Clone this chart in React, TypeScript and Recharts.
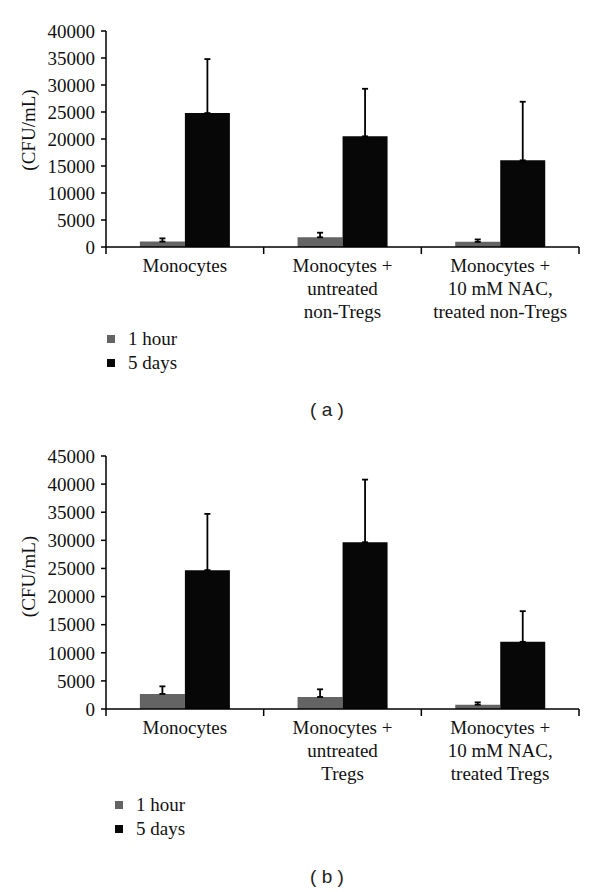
import React from 'react';
import { BarChart, Bar, XAxis, YAxis, ErrorBar, Legend } from 'recharts';

const serif = '"Liberation Serif", serif';

// panel (a)
const groupsA = ['Monocytes', 'Monocytes +\nuntreated\nnon-Tregs', 'Monocytes +\n10 mM NAC,\ntreated non-Tregs'];
const hourA = [1000, 1800, 950];
const hourErrA = [600, 850, 450];
const daysA = [24800, 20500, 16050];
const daysErrA = [10000, 8800, 10850];
const ticksA = [0, 5000, 10000, 15000, 20000, 25000, 30000, 35000, 40000];

// panel (b)
const groupsB = ['Monocytes', 'Monocytes +\nuntreated\nTregs', 'Monocytes +\n10 mM NAC,\ntreated Tregs'];
const hourB = [2680, 2140, 770];
const hourErrB = [1350, 1360, 410];
const daysB = [24700, 29660, 11950];
const daysErrB = [10000, 11140, 5450];
const ticksB = [0, 5000, 10000, 15000, 20000, 25000, 30000, 35000, 40000, 45000];

const seriesNames = ['1 hour', '5 days'];
const seriesColors = ['#646464', '#070707'];

function CategoryTick(props: any) {
  const { x, y, payload, index } = props;
  const half = payload?.offset || 78.8;
  const lines = String(payload.value).split('\n');
  return (
    <g>
      {index === 0 && (
        <line x1={x - half} y1={y - 7} x2={x - half} y2={y} stroke="#000" strokeWidth={1.5} />
      )}
      <line x1={x + half} y1={y - 7} x2={x + half} y2={y} stroke="#000" strokeWidth={1.5} />
      <text x={x} y={y + 18} textAnchor="middle" style={{ fontFamily: serif }} fontSize={19} fill="#111">
        {lines.map((l, i) => (
          <tspan key={i} x={x} dy={i === 0 ? 0 : 23}>
            {l}
          </tspan>
        ))}
      </text>
    </g>
  );
}

function LegendBox(props: any) {
  const { payload } = props;
  return (
    <div style={{ fontFamily: serif, fontSize: 19, color: '#111' }}>
      {(payload || []).map((p: any) => (
        <div key={p.value} style={{ display: 'flex', alignItems: 'center', height: 24 }}>
          <span style={{ width: 8, height: 8, background: p.color, marginRight: 13, display: 'inline-block' }} />
          <span>{p.value}</span>
        </div>
      ))}
    </div>
  );
}

type PanelProps = {
  groups: string[];
  hour: number[];
  hourErr: number[];
  days: number[];
  daysErr: number[];
  ticks: number[];
  top: number;
  height: number;
  marginTop: number;
  marginBottom: number;
  legendLeft: number;
  legendTop: number;
  labelDy: number;
  caption: string;
  captionTop: number;
};

function Panel(p: PanelProps) {
  const data = p.groups.map((g, i) => ({
    name: g,
    hour: p.hour[i],
    hourErr: [0, p.hourErr[i]],
    days: p.days[i],
    daysErr: [0, p.daysErr[i]],
  }));
  const yMax = p.ticks[p.ticks.length - 1];
  return (
    <>
      <div style={{ position: 'absolute', left: 0, top: p.top }}>
        <BarChart
          width={600}
          height={p.height}
          data={data}
          margin={{ top: p.marginTop, right: 21, left: 0, bottom: p.marginBottom }}
          barCategoryGap="21.5%"
          barGap={0}
        >
          <XAxis
            dataKey="name"
            interval={0}
            height={80}
            tickSize={7}
            tickMargin={0}
            tickLine={false}
            axisLine={{ stroke: '#000', strokeWidth: 1.5 }}
            tick={<CategoryTick />}
          />
          <YAxis
            width={106}
            domain={[0, yMax]}
            ticks={p.ticks}
            interval={0}
            tickSize={5}
            tickMargin={6}
            axisLine={{ stroke: '#000', strokeWidth: 1.5 }}
            tickLine={{ stroke: '#000', strokeWidth: 1.5 }}
            tick={{ fontSize: 19, fill: '#111', style: { fontFamily: serif } }}
            label={{
              value: '(CFU/mL)',
              angle: -90,
              position: 'center',
              dx: -25,
              dy: p.labelDy,
              style: { fontFamily: serif, fontSize: 19, fill: '#111' },
            }}
          />
          <Legend
            verticalAlign="bottom"
            align="left"
            content={<LegendBox />}
            wrapperStyle={{ left: p.legendLeft, top: p.legendTop, width: 200, height: 56 }}
          />
          <Bar dataKey="hour" name={seriesNames[0]} fill={seriesColors[0]} isAnimationActive={false}>
            <ErrorBar dataKey="hourErr" width={3} stroke="#000" strokeWidth={1.8} isAnimationActive={false} />
          </Bar>
          <Bar dataKey="days" name={seriesNames[1]} fill={seriesColors[1]} isAnimationActive={false}>
            <ErrorBar dataKey="daysErr" width={3} stroke="#000" strokeWidth={1.8} isAnimationActive={false} />
          </Bar>
        </BarChart>
      </div>
      <div
        style={{
          position: 'absolute',
          left: 277,
          width: 100,
          top: p.captionTop,
          height: 24,
          lineHeight: '24px',
          textAlign: 'center',
          fontFamily: '"Liberation Sans", sans-serif',
          fontSize: 19,
          color: '#222',
        }}
      >
        {p.caption}
      </div>
    </>
  );
}

export default function App() {
  return (
    <div style={{ position: 'absolute', left: 0, top: 0, width: 600, height: 892, background: '#fff' }}>
      <Panel
        groups={groupsA}
        hour={hourA}
        hourErr={hourErrA}
        days={daysA}
        daysErr={daysErrA}
        ticks={ticksA}
        top={0}
        height={390}
        marginTop={31}
        marginBottom={7}
        legendLeft={107}
        legendTop={327}
        labelDy={-9}
        caption="( a )"
        captionTop={398}
      />
      <Panel
        groups={groupsB}
        hour={hourB}
        hourErr={hourErrB}
        days={daysB}
        daysErr={daysErrB}
        ticks={ticksB}
        top={420}
        height={440}
        marginTop={36}
        marginBottom={15}
        legendLeft={115}
        legendTop={373}
        labelDy={-6}
        caption="( b )"
        captionTop={865}
      />
    </div>
  );
}
